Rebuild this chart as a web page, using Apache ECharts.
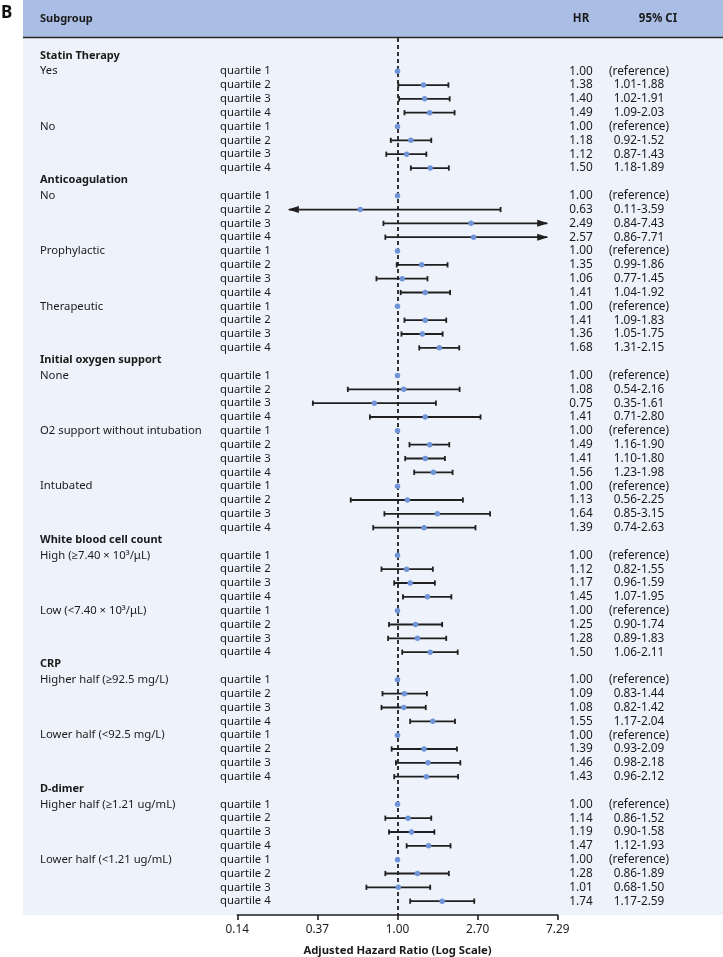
<!DOCTYPE html>
<html>
<head>
<meta charset="utf-8">
<script src="https://cdn.jsdelivr.net/npm/echarts@6/dist/echarts.min.js"></script>
<style>
html,body{margin:0;padding:0;background:#ffffff;}
#chart{width:723px;height:957px;}
</style>
</head>
<body>
<div id="chart"></div>
<script>
// ---------------- DATA ----------------
const sectionTitles = ['Statin Therapy', 'Anticoagulation', 'Initial oxygen support',
  'White blood cell count', 'CRP', 'D-dimer'];
const subgroupNames = [
  ['Yes', 'No'],
  ['No', 'Prophylactic', 'Therapeutic'],
  ['None', 'O2 support without intubation', 'Intubated'],
  ['High (\u22657.40 \u00d7 10\u00b3/\u03bcL)', 'Low (<7.40 \u00d7 10\u00b3/\u03bcL)'],
  ['Higher half (\u226592.5 mg/L)', 'Lower half (<92.5 mg/L)'],
  ['Higher half (\u22651.21 ug/mL)', 'Lower half (<1.21 ug/mL)']
];
const quartileLabels = ['quartile 1', 'quartile 2', 'quartile 3', 'quartile 4'];
const hrValues = [
  1.00, 1.38, 1.40, 1.49,
  1.00, 1.18, 1.12, 1.50,
  1.00, 0.63, 2.49, 2.57,
  1.00, 1.35, 1.06, 1.41,
  1.00, 1.41, 1.36, 1.68,
  1.00, 1.08, 0.75, 1.41,
  1.00, 1.49, 1.41, 1.56,
  1.00, 1.13, 1.64, 1.39,
  1.00, 1.12, 1.17, 1.45,
  1.00, 1.25, 1.28, 1.50,
  1.00, 1.09, 1.08, 1.55,
  1.00, 1.39, 1.46, 1.43,
  1.00, 1.14, 1.19, 1.47,
  1.00, 1.28, 1.01, 1.74
];
const ciLower = [
  null, 1.01, 1.02, 1.09,
  null, 0.92, 0.87, 1.18,
  null, 0.11, 0.84, 0.86,
  null, 0.99, 0.77, 1.04,
  null, 1.09, 1.05, 1.31,
  null, 0.54, 0.35, 0.71,
  null, 1.16, 1.10, 1.23,
  null, 0.56, 0.85, 0.74,
  null, 0.82, 0.96, 1.07,
  null, 0.90, 0.89, 1.06,
  null, 0.83, 0.82, 1.17,
  null, 0.93, 0.98, 0.96,
  null, 0.86, 0.90, 1.12,
  null, 0.86, 0.68, 1.17
];
const ciUpper = [
  null, 1.88, 1.91, 2.03,
  null, 1.52, 1.43, 1.89,
  null, 3.59, 7.43, 7.71,
  null, 1.86, 1.45, 1.92,
  null, 1.83, 1.75, 2.15,
  null, 2.16, 1.61, 2.80,
  null, 1.90, 1.80, 1.98,
  null, 2.25, 3.15, 2.63,
  null, 1.55, 1.59, 1.95,
  null, 1.74, 1.83, 2.11,
  null, 1.44, 1.42, 2.04,
  null, 2.09, 2.18, 2.12,
  null, 1.52, 1.58, 1.93,
  null, 1.89, 1.50, 2.59
];
const xTickLabels = ['0.14', '0.37', '1.00', '2.70', '7.29'];
const arrowLimits = [0.26, 6.4];
const logBase = 2.7;

// ---------------- ROW LAYOUT (built from the arrays) ----------------
const rows = [];
let k = 0;
sectionTitles.forEach(function (title, s) {
  rows.push({ kind: 'header', text: title });
  subgroupNames[s].forEach(function (sg) {
    quartileLabels.forEach(function (q, qi) {
      rows.push({ kind: 'item', sub: qi === 0 ? sg : '', q: q, idx: k });
      k++;
    });
  });
});
const nRows = rows.length;

const pointData = [];
const ciData = [];
const textData = [];
rows.forEach(function (r, ri) {
  textData.push([1, ri]);
  if (r.kind === 'item') {
    pointData.push([hrValues[r.idx], ri]);
    if (ciLower[r.idx] != null) ciData.push([ciLower[r.idx], ciUpper[r.idx], ri]);
  }
});

const FONT = '"Noto Sans", "Open Sans", sans-serif';
const TXT = '#1a1a1a';
const INK = '#1f1f1f';
const FS = 11.3;   // label text
const FSN = 11.8;  // numeric columns and tick labels

const chart = echarts.init(document.getElementById('chart'), null, { renderer: 'canvas' });

const option = {
  animation: false,
  backgroundColor: '#ffffff',
  grid: { left: 237.3, right: 165.3, top: 38, bottom: 42, containLabel: false, outerBoundsMode: 'none' },
  xAxis: {
    type: 'log',
    position: 'bottom',
    logBase: logBase,
    min: Math.pow(logBase, -2),
    max: Math.pow(logBase, 2),
    interval: 1,
    splitLine: { show: false },
    axisLine: { show: true, onZero: false, lineStyle: { color: INK, width: 1.6 } },
    axisTick: { show: true, length: 5, lineStyle: { color: INK, width: 1.6 } },
    axisLabel: {
      margin: 9, fontSize: FSN, fontFamily: FONT, color: TXT,
      formatter: function (v) {
        const e = Math.round(Math.log(v) / Math.log(logBase)) + 2;
        return xTickLabels[e] != null ? xTickLabels[e] : v.toFixed(2);
      }
    },
    name: 'Adjusted Hazard Ratio (Log Scale)',
    nameLocation: 'middle',
    nameGap: 30,
    nameTextStyle: { fontSize: FS, fontWeight: 'bold', fontFamily: FONT, color: TXT }
  },
  yAxis: {
    type: 'value', inverse: true, min: -1.4, max: nRows,
    show: false, splitLine: { show: false }
  },
  graphic: [
    { type: 'rect', z: -20, shape: { x: 23, y: 0, width: 700, height: 915 }, style: { fill: '#eef2fa' } },
    { type: 'rect', z: -19, shape: { x: 23, y: 0, width: 700, height: 37 }, style: { fill: '#aabde4' } },
    { type: 'line', z: -18, shape: { x1: 23, y1: 37.5, x2: 723, y2: 37.5 }, style: { stroke: '#2a2a2a', lineWidth: 1.6 } },
    { type: 'text', z: 10, style: { text: 'B', x: 1, y: 13, fontSize: 17, fontWeight: 'bold', fontFamily: FONT, fill: '#111', verticalAlign: 'middle', align: 'left' } },
    { type: 'text', z: 10, style: { text: 'Subgroup', x: 40, y: 18.5, fontSize: 11, fontWeight: 'bold', fontFamily: FONT, fill: TXT, verticalAlign: 'middle', align: 'left' } },
    { type: 'text', z: 10, style: { text: 'HR', x: 581, y: 18.5, fontSize: 11.5, fontWeight: 'bold', fontFamily: FONT, fill: TXT, verticalAlign: 'middle', align: 'center' } },
    { type: 'text', z: 10, style: { text: '95% CI', x: 658, y: 18.5, fontSize: 11.5, fontWeight: 'bold', fontFamily: FONT, fill: TXT, verticalAlign: 'middle', align: 'center' } }
  ],
  series: [
    {
      type: 'custom',
      name: 'CI',
      data: ciData,
      encode: { x: [0, 1], y: 2 },
      clip: false,
      z: 3,
      renderItem: function (params, api) {
        const lo = api.value(0), hi = api.value(1), r = api.value(2);
        const loC = Math.max(lo, arrowLimits[0]);
        const hiC = Math.min(hi, arrowLimits[1]);
        const p1 = api.coord([loC, r]);
        const p2 = api.coord([hiC, r]);
        const y = p1[1];
        const st = { stroke: INK, lineWidth: 1.8 };
        const ch = [{ type: 'line', shape: { x1: p1[0], y1: y, x2: p2[0], y2: y }, style: st }];
        if (lo < arrowLimits[0]) {
          ch.push({ type: 'polygon', shape: { points: [[p1[0] - 1, y], [p1[0] + 10, y - 3.5], [p1[0] + 10, y + 3.5]] }, style: { fill: INK } });
        } else {
          ch.push({ type: 'line', shape: { x1: p1[0], y1: y - 2.6, x2: p1[0], y2: y + 2.6 }, style: st });
        }
        if (hi > arrowLimits[1]) {
          ch.push({ type: 'polygon', shape: { points: [[p2[0] + 1, y], [p2[0] - 10, y - 3.5], [p2[0] - 10, y + 3.5]] }, style: { fill: INK } });
        } else {
          ch.push({ type: 'line', shape: { x1: p2[0], y1: y - 2.6, x2: p2[0], y2: y + 2.6 }, style: st });
        }
        return { type: 'group', children: ch };
      },
      markLine: {
        silent: true,
        symbol: 'none',
        label: { show: false },
        lineStyle: { color: INK, width: 1.8, type: [4, 3] },
        data: [{ xAxis: 1 }]
      }
    },
    {
      type: 'scatter',
      name: 'HR',
      data: pointData,
      symbol: 'circle',
      symbolSize: 5.5,
      z: 5,
      itemStyle: { color: '#6f94d8', opacity: 1 }
    },
    {
      type: 'custom',
      name: 'labels',
      data: textData,
      encode: { x: 0, y: 1 },
      clip: false,
      z: 6,
      silent: true,
      renderItem: function (params, api) {
        const r = rows[params.dataIndex];
        const y = api.coord([1, api.value(1)])[1];
        const base = { fontSize: FS, fontFamily: FONT, fill: TXT, verticalAlign: 'middle' };
        const ch = [];
        if (r.kind === 'header') {
          ch.push({ type: 'text', style: Object.assign({}, base, { text: r.text, x: 40, y: y - 2, fontSize: 11, fontWeight: 'bold', align: 'left' }) });
        } else {
          if (r.sub) ch.push({ type: 'text', style: Object.assign({}, base, { text: r.sub, x: 40, y: y, align: 'left' }) });
          ch.push({ type: 'text', style: Object.assign({}, base, { text: r.q, x: 220, y: y, align: 'left' }) });
          ch.push({ type: 'text', style: Object.assign({}, base, { text: hrValues[r.idx].toFixed(2), x: 581, y: y, align: 'center', fontSize: FSN }) });
          const ci = ciLower[r.idx] == null ? '(reference)' : ciLower[r.idx].toFixed(2) + '-' + ciUpper[r.idx].toFixed(2);
          ch.push({ type: 'text', style: Object.assign({}, base, { text: ci, x: 639, y: y, align: 'center', fontSize: FSN }) });
        }
        return { type: 'group', children: ch };
      }
    }
  ]
};
chart.setOption(option);
</script>
</body>
</html>
